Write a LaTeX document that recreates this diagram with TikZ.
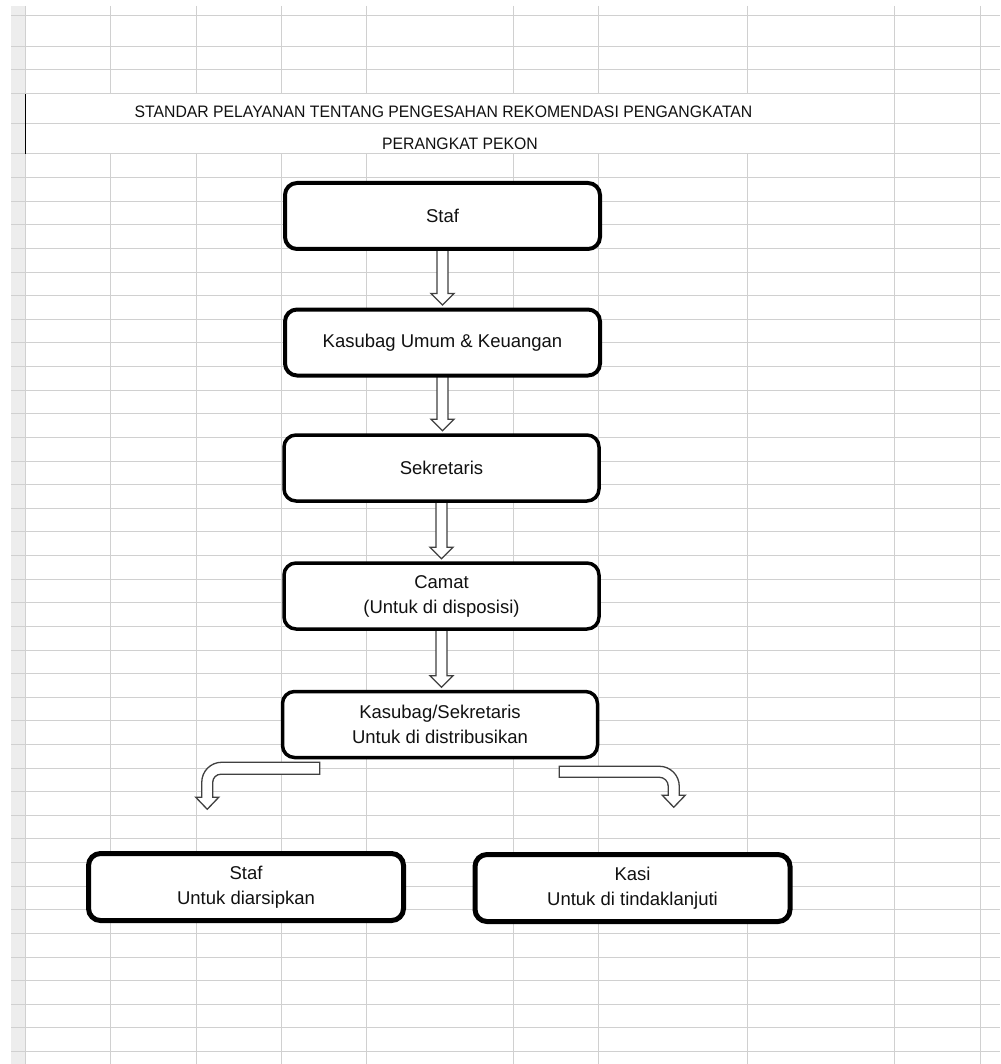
\documentclass[tikz,border=0pt]{standalone}
\usepackage{fontspec}
\setmainfont{Liberation Sans}
\usetikzlibrary{calc}
\pgfdeclarelayer{gridlayer}
\pgfdeclarelayer{arrowlayer}
\pgfsetlayers{gridlayer,arrowlayer,main}
\definecolor{gridc}{HTML}{D0D0D0}
\definecolor{stripc}{HTML}{EDEDED}
\definecolor{txt}{HTML}{111111}
\tikzset{
  box/.style={draw=black, line width=4pt, rounded corners=12pt, fill=white,
    minimum width=315pt, minimum height=66pt, inner sep=0pt, align=center,
    text=txt, font=\fontsize{18.5}{25}\selectfont},
  boxb/.style={box, line width=5pt, minimum height=67pt},
  blk/.style={draw=black!75, line width=1.3pt, fill=white, line join=miter},
  title/.style={text=txt, font=\fontsize{16.6}{19}\selectfont, inner sep=0pt},
  gridline/.style={draw=gridc, line width=1pt},
}
\begin{document}
\begin{tikzpicture}[x=1pt,y=-1pt]
\useasboundingbox (0,0) rectangle (1000,1064);
\begin{pgfonlayer}{gridlayer}
  \fill[white] (0,0) rectangle (1000,1064);
  \fill[stripc] (11,6) rectangle (25,1064);
  \foreach \yy in {16,47,70,94,124}
    \draw[gridline] (11,\yy) -- (1000,\yy);
  \foreach \k in {0,...,38}
    \draw[gridline] (11,{154+23.62*\k}) -- (1000,{154+23.62*\k});
  \foreach \xx in {110,196,281,366,513,598,747} {
    \draw[gridline] (\xx,6) -- (\xx,94);
    \draw[gridline] (\xx,154) -- (\xx,1064);
  }
  \foreach \xx in {894,980}
    \draw[gridline] (\xx,6) -- (\xx,1064);
  \draw[gridline] (25,6) -- (25,1064);
  \draw[black, line width=1pt] (25,94) -- (25,154);
\end{pgfonlayer}

\node[title] (t1) at (443.5,112) {\scalebox{0.95}[1]{STANDAR PELAYANAN TENTANG PENGESAHAN REKOMENDASI PENGANGKATAN}};
\node[title] (t2) at (460,143.5) {\scalebox{0.95}[1]{PERANGKAT PEKON}};

\node[box] (b1) at (442.5,216) {Staf};
\node[box] (b2) at (442.5,342.5) {Kasubag Umum \& Keuangan};
\node[box, line width=3.5pt] (b3) at (441.5,468) {Sekretaris};
\node[box, line width=3.5pt] (b4) at (441.5,596) {Camat\\(Untuk di disposisi)};
\node[box, line width=3.5pt] (b5) at (440,724.5) {Kasubag/Sekretaris\\Untuk di distribusikan};
\node[boxb] (b6) at (246,887) {Staf\\Untuk diarsipkan};
\node[boxb] (b7) at (632.5,888) {Kasi\\Untuk di tindaklanjuti};

\coordinate (L0) at ($(b5.south west)+(39,3)$);
\coordinate (R0) at ($(b5.south east)+(-40,7)$);

\begin{pgfonlayer}{arrowlayer}
  \foreach \a/\b in {b1/b2,b2/b3,b3/b4,b4/b5}
    \draw[blk] let \p1=(\a.south), \p2=(\b.north) in
      (\x1-5.5pt,\y1+3pt) -- (\x1-5.5pt,\y2+14pt) -- (\x1-11.5pt,\y2+14pt)
      -- (\x1,\y2+2.5pt) -- (\x1+11.5pt,\y2+14pt) -- (\x1+5.5pt,\y2+14pt)
      -- (\x1+5.5pt,\y1+3pt) -- cycle;
  \draw[blk] (L0) -- ++(-98,0) to[out=180,in=90] ++(-20,20) -- ++(0,15)
    -- ++(-6,0) -- ++(11.5,12) -- ++(11.5,-12) -- ++(-6,0) -- ++(0,-15)
    to[out=90,in=180] ++(8,-8) -- ++(99,0) -- cycle;
  \draw[blk] (R0) -- ++(100,0) to[out=0,in=90] ++(20,20) -- ++(0,9)
    -- ++(6,0) -- ++(-11.5,12) -- ++(-11.5,-12) -- ++(6,0) -- ++(0,-9)
    to[out=90,in=0] ++(-9,-9) -- ++(-100,0) -- cycle;
\end{pgfonlayer}
\end{tikzpicture}
\end{document}
